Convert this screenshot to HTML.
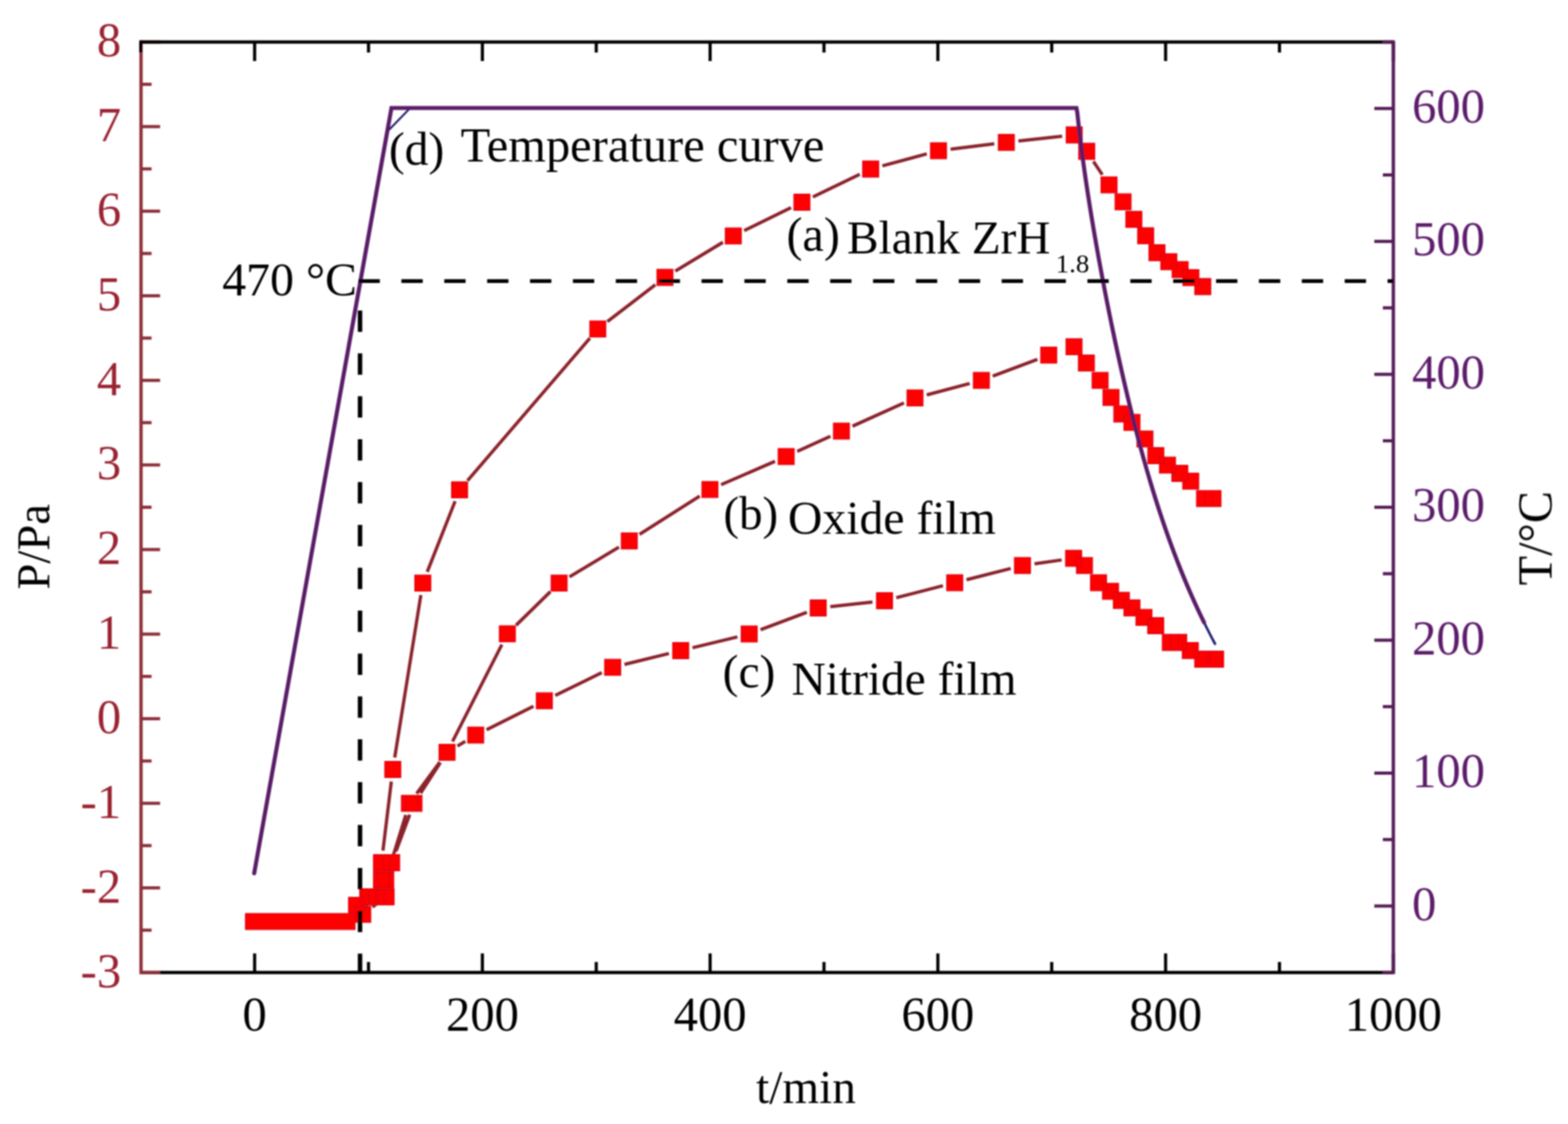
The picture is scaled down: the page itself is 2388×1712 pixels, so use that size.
<!DOCTYPE html>
<html><head><meta charset="utf-8"><title>Pressure and temperature curves</title>
<style>html,body{margin:0;padding:0;background:#fff;}body{width:2388px;height:1712px;overflow:hidden;}svg{display:block;}</style>
</head><body>
<svg width="2388" height="1712" viewBox="0 0 2388 1712">
<defs><filter id="soft" x="0" y="0" width="2388" height="1712" filterUnits="userSpaceOnUse"><feGaussianBlur stdDeviation="0.8"/></filter></defs>
<rect width="2388" height="1712" fill="#ffffff"/>
<g filter="url(#soft)">
<g stroke="#000" stroke-width="4.8" fill="none">
<line x1="214.8" y1="1481.2" x2="2122" y2="1481.2" stroke-width="5.0"/>
<line x1="387.8" y1="1481.2" x2="387.8" y2="1452.2"/>
<line x1="561.22" y1="1481.2" x2="561.22" y2="1465.2"/>
<line x1="734.64" y1="1481.2" x2="734.64" y2="1452.2"/>
<line x1="908.06" y1="1481.2" x2="908.06" y2="1465.2"/>
<line x1="1081.48" y1="1481.2" x2="1081.48" y2="1452.2"/>
<line x1="1254.9" y1="1481.2" x2="1254.9" y2="1465.2"/>
<line x1="1428.32" y1="1481.2" x2="1428.32" y2="1452.2"/>
<line x1="1601.74" y1="1481.2" x2="1601.74" y2="1465.2"/>
<line x1="1775.16" y1="1481.2" x2="1775.16" y2="1452.2"/>
<line x1="1948.58" y1="1481.2" x2="1948.58" y2="1465.2"/>
<line x1="2122" y1="1481.2" x2="2122" y2="1452.2"/>
</g>
<g stroke="#8c2f38" stroke-width="4.8" fill="none">
<line x1="214.8" y1="64" x2="214.8" y2="1481.2" stroke-width="5.0" stroke-linecap="square"/>
<line x1="214.8" y1="1481.2" x2="243.8" y2="1481.2"/>
<line x1="214.8" y1="1416.78" x2="230.8" y2="1416.78"/>
<line x1="214.8" y1="1352.36" x2="243.8" y2="1352.36"/>
<line x1="214.8" y1="1287.95" x2="230.8" y2="1287.95"/>
<line x1="214.8" y1="1223.53" x2="243.8" y2="1223.53"/>
<line x1="214.8" y1="1159.11" x2="230.8" y2="1159.11"/>
<line x1="214.8" y1="1094.69" x2="243.8" y2="1094.69"/>
<line x1="214.8" y1="1030.27" x2="230.8" y2="1030.27"/>
<line x1="214.8" y1="965.85" x2="243.8" y2="965.85"/>
<line x1="214.8" y1="901.44" x2="230.8" y2="901.44"/>
<line x1="214.8" y1="837.02" x2="243.8" y2="837.02"/>
<line x1="214.8" y1="772.6" x2="230.8" y2="772.6"/>
<line x1="214.8" y1="708.18" x2="243.8" y2="708.18"/>
<line x1="214.8" y1="643.76" x2="230.8" y2="643.76"/>
<line x1="214.8" y1="579.35" x2="243.8" y2="579.35"/>
<line x1="214.8" y1="514.93" x2="230.8" y2="514.93"/>
<line x1="214.8" y1="450.51" x2="243.8" y2="450.51"/>
<line x1="214.8" y1="386.09" x2="230.8" y2="386.09"/>
<line x1="214.8" y1="321.67" x2="243.8" y2="321.67"/>
<line x1="214.8" y1="257.25" x2="230.8" y2="257.25"/>
<line x1="214.8" y1="192.84" x2="243.8" y2="192.84"/>
<line x1="214.8" y1="128.42" x2="230.8" y2="128.42"/>
<line x1="214.8" y1="64" x2="243.8" y2="64"/>
</g>
<g stroke="#000" stroke-width="4.8" fill="none">
<line x1="212.3" y1="64" x2="2122" y2="64" stroke-width="5.0"/>
<line x1="214.38" y1="64" x2="214.38" y2="80"/>
<line x1="387.8" y1="64" x2="387.8" y2="93"/>
<line x1="561.22" y1="64" x2="561.22" y2="80"/>
<line x1="734.64" y1="64" x2="734.64" y2="93"/>
<line x1="908.06" y1="64" x2="908.06" y2="80"/>
<line x1="1081.48" y1="64" x2="1081.48" y2="93"/>
<line x1="1254.9" y1="64" x2="1254.9" y2="80"/>
<line x1="1428.32" y1="64" x2="1428.32" y2="93"/>
<line x1="1601.74" y1="64" x2="1601.74" y2="80"/>
<line x1="1775.16" y1="64" x2="1775.16" y2="93"/>
<line x1="1948.58" y1="64" x2="1948.58" y2="80"/>
<line x1="2122" y1="64" x2="2122" y2="93"/>
</g>
<g stroke="#521a55" stroke-width="4.8" fill="none">
<line x1="2122" y1="64" x2="2122" y2="1481.2" stroke-width="5.0" stroke-linecap="square"/>
<line x1="2122" y1="1481.23" x2="2106" y2="1481.23"/>
<line x1="2122" y1="1380" x2="2093" y2="1380"/>
<line x1="2122" y1="1278.77" x2="2106" y2="1278.77"/>
<line x1="2122" y1="1177.54" x2="2093" y2="1177.54"/>
<line x1="2122" y1="1076.31" x2="2106" y2="1076.31"/>
<line x1="2122" y1="975.08" x2="2093" y2="975.08"/>
<line x1="2122" y1="873.85" x2="2106" y2="873.85"/>
<line x1="2122" y1="772.62" x2="2093" y2="772.62"/>
<line x1="2122" y1="671.38" x2="2106" y2="671.38"/>
<line x1="2122" y1="570.15" x2="2093" y2="570.15"/>
<line x1="2122" y1="468.92" x2="2106" y2="468.92"/>
<line x1="2122" y1="367.69" x2="2093" y2="367.69"/>
<line x1="2122" y1="266.46" x2="2106" y2="266.46"/>
<line x1="2122" y1="165.23" x2="2093" y2="165.23"/>
<line x1="2122" y1="64" x2="2106" y2="64"/>
</g>
<path d="M583.22 1295.63L595.98 1190.37M601.14 1153.74L640.96 906.46M650.68 870.99L693.12 763.31M711.96 732.07L898.34 515.13M925.07 489.83L998.03 433.77M1028.52 412.91L1100.98 368.99M1133.4 351.23L1204.7 316.17M1237.96 299.96L1309.34 265.54M1343.86 252.68L1411.44 234.42M1447.66 227.33L1514.24 219.07M1550.99 214.79L1617.61 207.51M1665.25 245.9L1678.75 266.2M567.33 1381.43L573.17 1377.07M590.98 1347.74L593.52 1332.26M603.01 1296.68L623.99 1240.92M640.54 1208.06L670.76 1161.34M689.19 1129.31L764.31 981.79M785.92 952.36L838.28 901.14M867.35 878.66L942.55 833.44M974 813.95L1065.6 755.55M1098.18 738.25L1180.32 702.65M1214.12 687.59L1264.68 664.41M1298.36 649.1L1376.64 613.8M1411.38 601.46L1476.72 584.14M1511.92 572.89L1579.88 547.31M541.04 1392.11L559.5 1377.49M592.97 1322.33L618.03 1241.27M634.47 1208.7L669.83 1160.7M696.68 1136.31L708.62 1129.19M741.04 1111.42L812.46 1075.68M845.61 1059.26L916.49 1024.54M951.07 1011.99L1018.73 995.41M1054.68 986.64L1123.02 970.06M1158.31 959.16L1228.79 932.54M1264.49 924L1328.71 917M1365.02 910.41L1436.08 892.19M1471.93 883.03L1539.27 865.87M1575.52 858.71L1616.78 852.89" stroke="#8a2129" stroke-width="5" fill="none" stroke-linecap="butt"/>
<path d="M373.8 1391.4H540.8V1415.8H373.8zM530.75 1366.75h24.5v24.5h-24.5zM547.75 1353.75h24.5v24.5h-24.5zM568.75 1327.75h24.5v24.5h-24.5zM568.75 1301.75h24.5v24.5h-24.5zM585.95 1159.75h24.5v24.5h-24.5zM631.65 875.95h24.5v24.5h-24.5zM687.65 733.85h24.5v24.5h-24.5zM898.15 488.85h24.5v24.5h-24.5zM1000.45 410.25h24.5v24.5h-24.5zM1104.55 347.15h24.5v24.5h-24.5zM1209.05 295.75h24.5v24.5h-24.5zM1313.75 245.25h24.5v24.5h-24.5zM1417.05 217.35h24.5v24.5h-24.5zM1520.35 204.55h24.5v24.5h-24.5zM1623.75 193.25h24.5v24.5h-24.5zM1642.75 218.25h24.5v24.5h-24.5zM1676.75 269.35h24.5v24.5h-24.5zM1698.15 295.15h24.5v24.5h-24.5zM1714.55 321.85h24.5v24.5h-24.5zM1732.55 346.85h24.5v24.5h-24.5zM1749.75 372.65h24.5v24.5h-24.5zM1767.85 386.45h24.5v24.5h-24.5zM1785.05 398.45h24.5v24.5h-24.5zM1801.45 410.55h24.5v24.5h-24.5zM1819.55 424.25h24.5v24.5h-24.5zM540.25 1380.25h24.5v24.5h-24.5zM575.75 1353.75h24.5v24.5h-24.5zM584.25 1301.75h24.5v24.5h-24.5zM618.25 1211.35h24.5v24.5h-24.5zM668.55 1133.55h24.5v24.5h-24.5zM760.45 953.05h24.5v24.5h-24.5zM839.25 875.95h24.5v24.5h-24.5zM946.15 811.65h24.5v24.5h-24.5zM1068.95 733.35h24.5v24.5h-24.5zM1185.05 683.05h24.5v24.5h-24.5zM1269.25 644.45h24.5v24.5h-24.5zM1381.25 593.95h24.5v24.5h-24.5zM1482.35 567.15h24.5v24.5h-24.5zM1584.95 528.55h24.5v24.5h-24.5zM1623.45 515.95h24.5v24.5h-24.5zM1642.25 540.65h24.5v24.5h-24.5zM1663.15 567.15h24.5v24.5h-24.5zM1679.75 593.15h24.5v24.5h-24.5zM1696.25 618.25h24.5v24.5h-24.5zM1711.65 631.05h24.5v24.5h-24.5zM1731.45 656.35h24.5v24.5h-24.5zM1748.05 681.75h24.5v24.5h-24.5zM1765.75 696.15h24.5v24.5h-24.5zM1784.55 708.75h24.5v24.5h-24.5zM1801.15 720.55h24.5v24.5h-24.5zM1822.25 747.05h24.5v24.5h-24.5zM1835.05 747.05h24.5v24.5h-24.5zM561.75 1353.75h24.5v24.5h-24.5zM575.25 1327.75h24.5v24.5h-24.5zM611.25 1211.35h24.5v24.5h-24.5zM712.25 1107.45h24.5v24.5h-24.5zM816.75 1055.15h24.5v24.5h-24.5zM920.85 1004.15h24.5v24.5h-24.5zM1024.45 978.75h24.5v24.5h-24.5zM1128.75 953.45h24.5v24.5h-24.5zM1233.85 913.75h24.5v24.5h-24.5zM1334.85 902.75h24.5v24.5h-24.5zM1441.75 875.35h24.5v24.5h-24.5zM1544.95 849.05h24.5v24.5h-24.5zM1622.85 838.05h24.5v24.5h-24.5zM1639.35 849.05h24.5v24.5h-24.5zM1660.75 875.35h24.5v24.5h-24.5zM1679.05 888.45h24.5v24.5h-24.5zM1695.55 902.25h24.5v24.5h-24.5zM1711.65 913.65h24.5v24.5h-24.5zM1729.95 928.15h24.5v24.5h-24.5zM1747.85 940.75h24.5v24.5h-24.5zM1770.15 966.25h24.5v24.5h-24.5zM1782.85 966.25h24.5v24.5h-24.5zM1800.55 978.55h24.5v24.5h-24.5zM1819.45 991.75h24.5v24.5h-24.5zM1839.05 991.75h24.5v24.5h-24.5z" fill="#ff0000" stroke="#d80a14" stroke-width="1.3"/>
<path d="M387.1 1330.2 L589.8 200.5 L624.7 164.5 L700 164.5" stroke="#1c1c70" stroke-width="3" fill="none" stroke-linejoin="round" stroke-linecap="round"/>
<path d="M1600 164.5 L1639.4 164.5 L1640.75 172 L1641.59 180 L1642.46 188 L1643.36 196 L1644.29 204 L1645.25 212 L1646.24 220 L1647.25 228 L1648.3 236 L1649.37 244 L1650.46 252 L1651.58 260 L1652.73 268 L1653.89 276 L1655.08 284 L1656.29 292 L1657.53 300 L1658.78 308 L1660.05 316 L1661.35 324 L1662.66 332 L1663.99 340 L1665.34 348 L1666.7 356 L1668.09 364 L1669.49 372 L1670.91 380 L1672.34 388 L1673.79 396 L1675.26 404 L1676.74 412 L1678.24 420 L1679.76 428 L1681.29 436 L1682.83 444 L1684.4 452 L1685.97 460 L1687.57 468 L1689.18 476 L1690.8 484 L1692.44 492 L1694.1 500 L1695.77 508 L1697.47 516 L1699.17 524 L1700.9 532 L1702.64 540 L1704.41 548 L1706.19 556 L1707.99 564 L1709.81 572 L1711.65 580 L1713.51 588 L1715.39 596 L1717.29 604 L1719.21 612 L1721.16 620 L1723.14 628 L1725.13 636 L1727.16 644 L1729.2 652 L1731.28 660 L1733.38 668 L1735.52 676 L1737.68 684 L1739.87 692 L1742.1 700 L1744.35 708 L1746.64 716 L1748.97 724 L1751.33 732 L1753.73 740 L1756.17 748 L1758.64 756 L1761.16 764 L1763.72 772 L1766.33 780 L1768.97 788 L1771.67 796 L1774.41 804 L1777.2 812 L1780.04 820 L1782.94 828 L1785.89 836 L1788.89 844 L1791.95 852 L1795.07 860 L1798.24 868 L1801.48 876 L1804.79 884 L1808.16 892 L1811.59 900 L1815.1 908 L1818.67 916 L1822.32 924 L1826.04 932 L1829.84 940 L1833.72 948 L1837.68 956 L1841.72 964 L1845.85 972 L1850.06 980 L1850.44 980.7" stroke="#1c1c70" stroke-width="3.8" fill="none" stroke-linejoin="round" stroke-linecap="round"/>
<path d="M387.1 1330.2 L596.2 164.5 L1639.4 164.5 L1640.75 172 L1641.59 180 L1642.46 188 L1643.36 196 L1644.29 204 L1645.25 212 L1646.24 220 L1647.25 228 L1648.3 236 L1649.37 244 L1650.46 252 L1651.58 260 L1652.73 268 L1653.89 276 L1655.08 284 L1656.29 292 L1657.53 300 L1658.78 308 L1660.05 316 L1661.35 324 L1662.66 332 L1663.99 340 L1665.34 348 L1666.7 356 L1668.09 364 L1669.49 372 L1670.91 380 L1672.34 388 L1673.79 396 L1675.26 404 L1676.74 412 L1678.24 420 L1679.76 428 L1681.29 436 L1682.83 444 L1684.4 452 L1685.97 460 L1687.57 468 L1689.18 476 L1690.8 484 L1692.44 492 L1694.1 500 L1695.77 508 L1697.47 516 L1699.17 524 L1700.9 532 L1702.64 540 L1704.41 548 L1706.19 556 L1707.99 564 L1709.81 572 L1711.65 580 L1713.51 588 L1715.39 596 L1717.29 604 L1719.21 612 L1721.16 620 L1723.14 628 L1725.13 636 L1727.16 644 L1729.2 652 L1731.28 660 L1733.38 668 L1735.52 676 L1737.68 684 L1739.87 692 L1742.1 700 L1744.35 708 L1746.64 716 L1748.97 724 L1751.33 732 L1753.73 740 L1756.17 748 L1758.64 756 L1761.16 764 L1763.72 772 L1766.33 780 L1768.97 788 L1771.67 796 L1774.41 804 L1777.2 812 L1780.04 820 L1782.94 828 L1785.89 836 L1788.89 844 L1791.95 852 L1795.07 860 L1798.24 868 L1801.48 876 L1804.79 884 L1808.16 892 L1811.59 900 L1815.1 908 L1818.67 916 L1822.32 924 L1826.04 932 L1829.84 940 L1833.72 948" stroke="#581a66" stroke-width="6.2" fill="none" stroke-linejoin="miter" stroke-linecap="round"/>
<g stroke="#000" fill="none" stroke-dasharray="32.5 32.8">
<line x1="546" y1="428.2" x2="2122" y2="428.2" stroke-width="5.8"/>
<line x1="548.3" y1="473" x2="548.3" y2="1481.2" stroke-width="6.8"/>
</g>
<g font-family="'Liberation Serif','Times New Roman',serif">
<text x="184.5" y="1503.5" font-size="74" fill="#9a2430" text-anchor="end">-3</text>
<text x="184.5" y="1374.66" font-size="74" fill="#9a2430" text-anchor="end">-2</text>
<text x="184.5" y="1245.83" font-size="74" fill="#9a2430" text-anchor="end">-1</text>
<text x="184.5" y="1116.99" font-size="74" fill="#9a2430" text-anchor="end">0</text>
<text x="184.5" y="988.15" font-size="74" fill="#9a2430" text-anchor="end">1</text>
<text x="184.5" y="859.32" font-size="74" fill="#9a2430" text-anchor="end">2</text>
<text x="184.5" y="730.48" font-size="74" fill="#9a2430" text-anchor="end">3</text>
<text x="184.5" y="601.65" font-size="74" fill="#9a2430" text-anchor="end">4</text>
<text x="184.5" y="472.81" font-size="74" fill="#9a2430" text-anchor="end">5</text>
<text x="184.5" y="343.97" font-size="74" fill="#9a2430" text-anchor="end">6</text>
<text x="184.5" y="215.14" font-size="74" fill="#9a2430" text-anchor="end">7</text>
<text x="184.5" y="86.3" font-size="74" fill="#9a2430" text-anchor="end">8</text>
<text x="2150.5" y="1401.5" font-size="74" fill="#5c1a6a">0</text>
<text x="2150.5" y="1199.04" font-size="74" fill="#5c1a6a">100</text>
<text x="2150.5" y="996.58" font-size="74" fill="#5c1a6a">200</text>
<text x="2150.5" y="794.12" font-size="74" fill="#5c1a6a">300</text>
<text x="2150.5" y="591.65" font-size="74" fill="#5c1a6a">400</text>
<text x="2150.5" y="389.19" font-size="74" fill="#5c1a6a">500</text>
<text x="2150.5" y="186.73" font-size="74" fill="#5c1a6a">600</text>
<text x="387.8" y="1569.8" font-size="74" fill="#000" text-anchor="middle">0</text>
<text x="734.64" y="1569.8" font-size="74" fill="#000" text-anchor="middle">200</text>
<text x="1081.48" y="1569.8" font-size="74" fill="#000" text-anchor="middle">400</text>
<text x="1428.32" y="1569.8" font-size="74" fill="#000" text-anchor="middle">600</text>
<text x="1775.16" y="1569.8" font-size="74" fill="#000" text-anchor="middle">800</text>
<text x="2122" y="1569.8" font-size="74" fill="#000" text-anchor="middle">1000</text>
<text x="1151.5" y="1679.7" font-size="72" fill="#000">t/min</text>
<text transform="translate(75 898) rotate(-90)" font-size="71" fill="#000">P/Pa</text>
<text transform="translate(2363 891.6) rotate(-90)" font-size="73.5" fill="#000">T/°C</text>
<text x="338.4" y="449.5" font-size="72.9" fill="#000">470 °C</text>
<text x="592.2" y="251" font-size="72.5" fill="#000">(d)</text>
<text x="701.4" y="246.2" font-size="73.8" fill="#000">Temperature curve</text>
<text x="1197.7" y="382" font-size="73.3" fill="#000">(a)</text>
<text x="1289.9" y="385.7" font-size="72" fill="#000">Blank ZrH</text>
<text x="1607.7" y="414.6" font-size="41" fill="#000">1.8</text>
<text x="1101.7" y="805.8" font-size="71.6" fill="#000">(b)</text>
<text x="1200.1" y="813.4" font-size="72.6" fill="#000">Oxide film</text>
<text x="1100.6" y="1047" font-size="72.3" fill="#000">(c)</text>
<text x="1205.4" y="1058.3" font-size="72.2" fill="#000">Nitride film</text>
</g>
</g>
</svg>
</body></html>
